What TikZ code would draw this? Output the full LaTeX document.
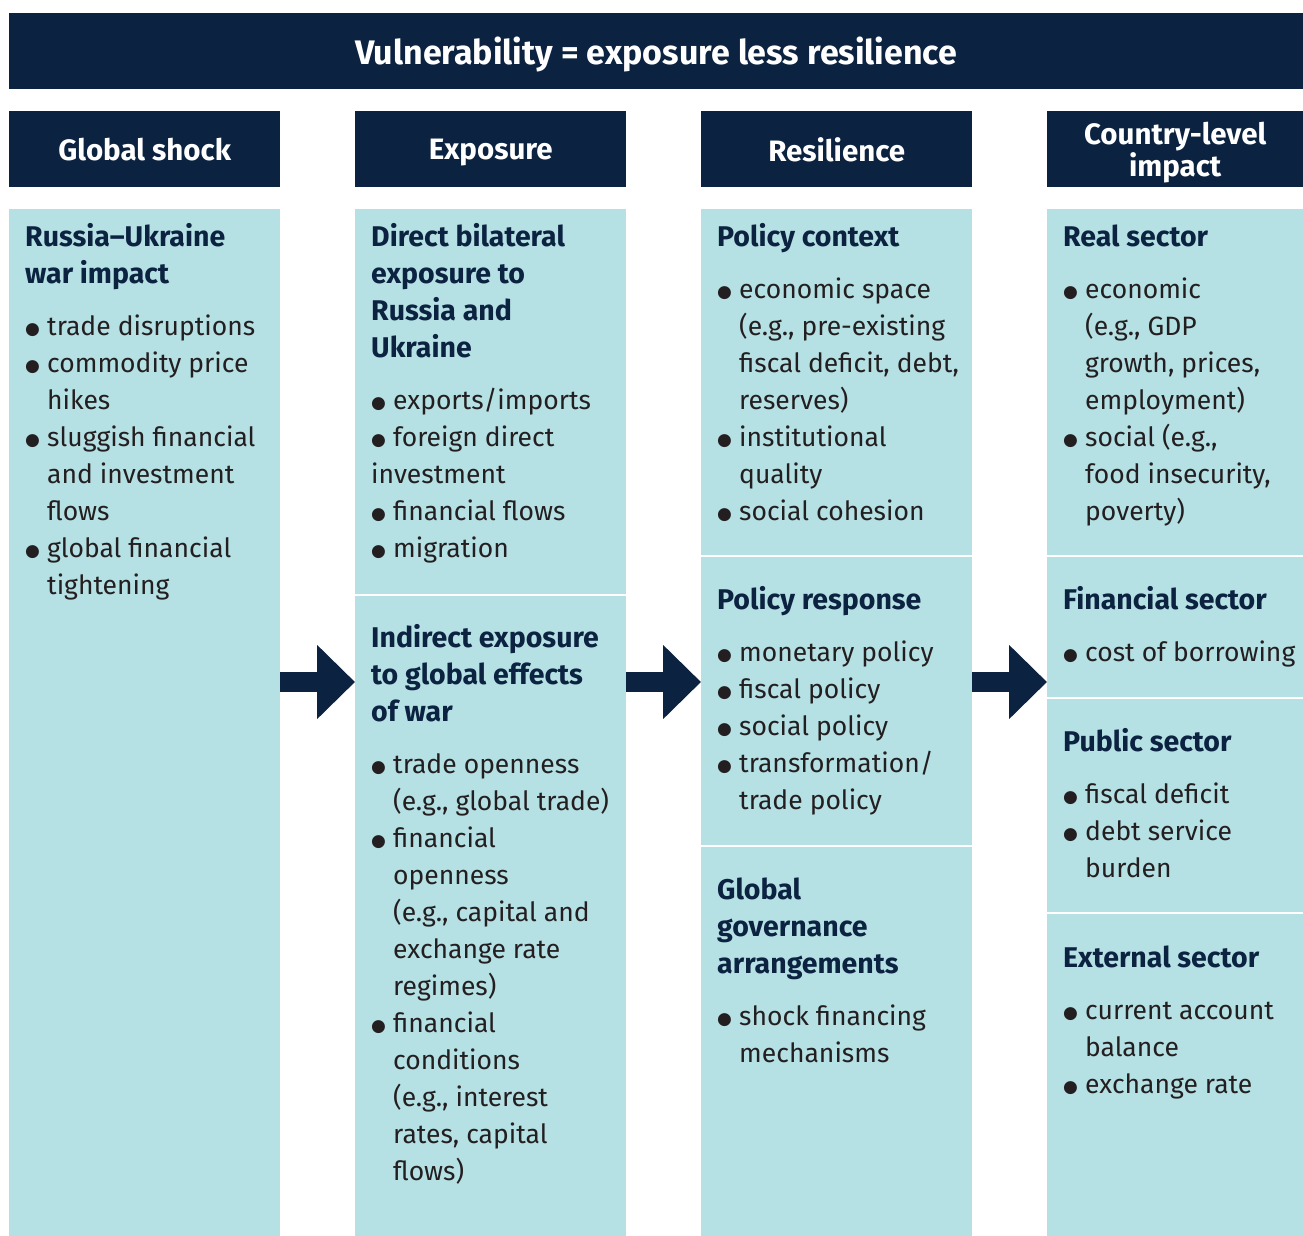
\documentclass[tikz,border=0pt]{standalone}
\usepackage{fontspec}
\setmainfont{Fira Sans}
\newfontfamily\dotfont{DejaVu Sans}
\usetikzlibrary{arrows.meta}
\definecolor{navy}{HTML}{0B2240}
\definecolor{lightcyan}{HTML}{B5E0E4}
\definecolor{textdark}{HTML}{231F20}
\newcommand{\hd}[1]{{\bfseries\fontsize{28.5}{37}\selectfont\color{navy}#1}}
\newcommand{\bul}{\makebox[22pt][l]{\raisebox{1pt}{\dotfont\fontsize{17}{17}\selectfont ●}}}
\newcommand{\ind}{\hspace*{22pt}}
\tikzset{
  titlebar/.style={fill=navy, text=white, font=\bfseries\fontsize{34}{40}\selectfont, minimum width=1294pt, minimum height=76pt, text depth=0pt, anchor=north west, inner sep=0pt},
  hdrbox/.style={fill=navy, text=white, font=\bfseries\fontsize{29.5}{32}\selectfont, minimum width=271pt, minimum height=76pt, text depth=0pt, align=center, anchor=north west, inner sep=0pt},
  colbox/.style={fill=lightcyan, minimum width=271pt, minimum height=1027pt, anchor=north west, inner sep=0pt},
  blocktext/.style={anchor=north west, align=left, inner sep=0pt, text=textdark, font=\fontsize{26.5}{37}\selectfont},
  bigarrow/.style={navy, line width=20pt, -{Triangle[length=38pt,width=72pt]}},
  divider/.style={white, line width=2pt}
}
\begin{document}
\begin{tikzpicture}[x=1pt,y=-1pt]
  \useasboundingbox (0,0) rectangle (1303,1236);
  % title
  \node[titlebar] (title) at (9,13) {Vulnerability = exposure less resilience};
  % column heads
  \node[hdrbox] (hgs) at (9,111) {Global shock};
  \node[hdrbox] (hex) at (355,111) {Exposure};
  \node[hdrbox] (hres) at (701,111) {Resilience};
  \node[hdrbox, minimum width=256pt] (hcl) at (1047,111) {Country-level\\impact};
  % column bodies
  \node[colbox] (gs) at (9,209) {};
  \node[colbox] (ex) at (355,209) {};
  \node[colbox] (res) at (701,209) {};
  \node[colbox, minimum width=256pt] (cl) at (1047,209) {};
  % dividers
  \foreach \xa/\xb/\yy in {355/626/595, 701/972/556, 701/972/846, 1047/1303/556, 1047/1303/698, 1047/1303/913}
    \draw[divider] (\xa,\yy) -- (\xb,\yy);
  % arrows
  \coordinate (ay) at (0,682);
  \draw[bigarrow] (gs.east |- ay) -- (ex.west |- ay);
  \draw[bigarrow] (ex.east |- ay) -- (res.west |- ay);
  \draw[bigarrow] (res.east |- ay) -- (cl.west |- ay);
  % Global shock
  \node[blocktext] (shock) at (25,220) {\strut\hd{Russia–Ukraine}\\\hd{war impact}\\[15pt]
    \bul trade disruptions\\\bul commodity price\\\ind hikes\\\bul sluggish financial\\\ind and investment\\\ind flows\\\bul global financial\\\ind tightening};
  % Exposure
  \node[blocktext] (direct) at (371,220) {\strut\hd{Direct bilateral}\\\hd{exposure to}\\\hd{Russia and}\\\hd{Ukraine}\\[15pt]
    \bul exports/imports\\\bul foreign direct\\investment\\\bul financial flows\\\bul migration};
  \node[blocktext] (indirect) at (371,621) {\strut\hd{Indirect exposure}\\\hd{to global effects}\\\hd{of war}\\[15pt]
    \bul trade openness\\\ind (e.g., global trade)\\\bul financial\\\ind openness\\\ind (e.g., capital and\\\ind exchange rate\\\ind regimes)\\\bul financial\\\ind conditions\\\ind (e.g., interest\\\ind rates, capital\\\ind flows)};
  % Resilience
  \node[blocktext] (context) at (717,220) {\strut\hd{Policy context}\\[15pt]
    \bul economic space\\\ind (e.g., pre-existing\\\ind fiscal deficit, debt,\\\ind reserves)\\\bul institutional\\\ind quality\\\bul social cohesion};
  \node[blocktext] (response) at (717,583) {\strut\hd{Policy response}\\[15pt]
    \bul monetary policy\\\bul fiscal policy\\\bul social policy\\\bul transformation/\\\ind trade policy};
  \node[blocktext] (govern) at (717,873) {\strut\hd{Global}\\\hd{governance}\\\hd{arrangements}\\[15pt]
    \bul shock financing\\\ind mechanisms};
  % Country-level impact
  \node[blocktext] (real) at (1063,220) {\strut\hd{Real sector}\\[15pt]
    \bul economic\\\ind (e.g., GDP\\\ind growth, prices,\\\ind employment)\\\bul social (e.g.,\\\ind food insecurity,\\\ind poverty)};
  \node[blocktext] (fin) at (1063,583) {\strut\hd{Financial sector}\\[15pt]
    \bul cost of borrowing};
  \node[blocktext] (pub) at (1063,725) {\strut\hd{Public sector}\\[15pt]
    \bul fiscal deficit\\\bul debt service\\\ind burden};
  \node[blocktext] (ext) at (1063,941) {\strut\hd{External sector}\\[15pt]
    \bul current account\\\ind balance\\\bul exchange rate};
\end{tikzpicture}
\end{document}
